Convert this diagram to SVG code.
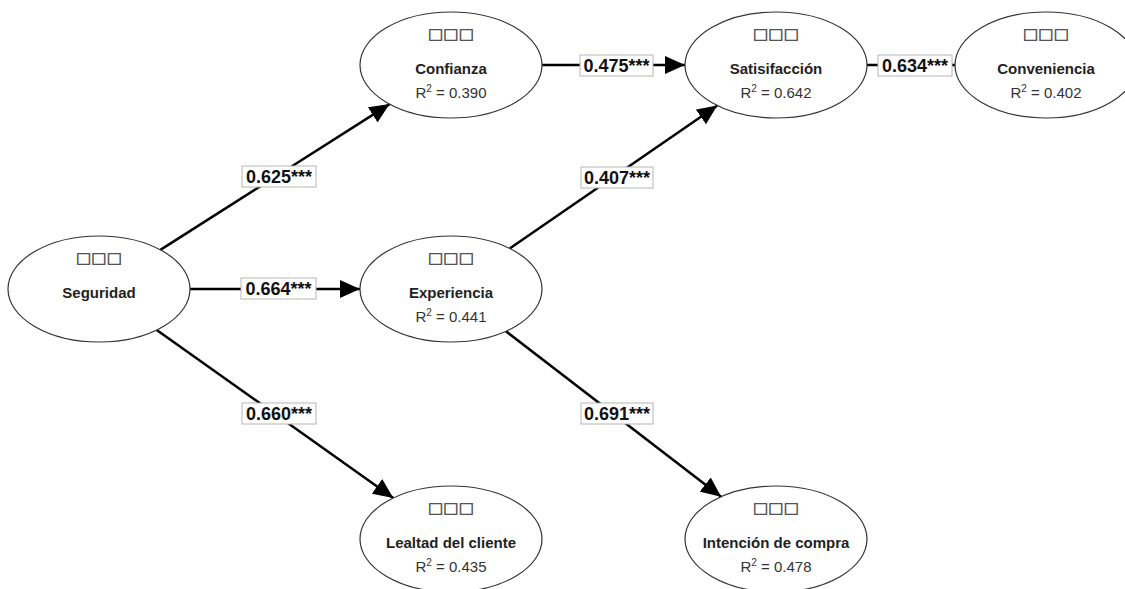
<svg xmlns="http://www.w3.org/2000/svg" width="1125" height="589" viewBox="0 0 1125 589">
<style>
.node ellipse{fill:#fff;stroke:#333;stroke-width:1.2}
.tofu{font-family:"DejaVu Sans",sans-serif;font-size:15px;fill:#444;stroke:#444;stroke-width:0.35;text-anchor:middle}
.name{font-family:"Liberation Sans",Arial,sans-serif;font-size:15px;font-weight:bold;fill:#222;text-anchor:middle}
.r2{font-family:"Liberation Sans",Arial,sans-serif;font-size:15px;fill:#333;text-anchor:middle}
.sup{font-size:10px}
.edge{stroke:#000;stroke-width:2.5;fill:none;marker-end:url(#arr)}
.lbl rect{fill:#fff;stroke:#b5b5b5;stroke-width:1}
.lbl text{font-family:"Liberation Sans",Arial,sans-serif;font-size:18px;font-weight:bold;fill:#111;text-anchor:middle}
</style>
<defs>
<marker id="arr" markerUnits="userSpaceOnUse" markerWidth="20" markerHeight="18" refX="20" refY="9" orient="auto">
<path d="M0,0 L20,9 L0,18 z" fill="#000"/>
</marker>
</defs>
<rect width="1125" height="589" fill="#fff"/>
<g id="connectors">
<path class="edge" d="M160.4,249.9 L389.6,104.1"/>
<path class="edge" d="M190,289 L360,289"/>
<path class="edge" d="M156.7,330 L393.3,498"/>
<path class="edge" d="M542,65 L685,65"/>
<path class="edge" d="M509.7,248.5 L717.3,105.5"/>
<path class="edge" d="M505.9,331.3 L721.1,496.7"/>
<path class="edge" d="M867,65 L955,65"/>
<g class="lbl" id="l1"><rect x="242" y="166" width="74" height="21"/><text x="279" y="183">0.625***</text></g>
<g class="lbl" id="l2"><rect x="241" y="278" width="75" height="21"/><text x="278.5" y="295">0.664***</text></g>
<g class="lbl" id="l3"><rect x="242" y="403" width="74" height="21"/><text x="279" y="420">0.660***</text></g>
<g class="lbl" id="l4"><rect x="580" y="55" width="73" height="21"/><text x="616.5" y="72">0.475***</text></g>
<g class="lbl" id="l5"><rect x="581" y="167" width="72" height="21"/><text x="617" y="184">0.407***</text></g>
<g class="lbl" id="l6"><rect x="581" y="403" width="72" height="21"/><text x="617" y="420">0.691***</text></g>
<g class="lbl" id="l7"><rect x="878" y="55" width="74" height="21"/><text x="915" y="72">0.634***</text></g>
</g>
<g class="node" id="seguridad">
<ellipse cx="99" cy="289" rx="91" ry="53"/>
<text class="tofu" x="99" y="263" textLength="46" lengthAdjust="spacingAndGlyphs">□□□</text>
<text class="name" x="99" y="298">Seguridad</text>
</g>
<g class="node" id="confianza">
<ellipse cx="451" cy="65" rx="91" ry="53"/>
<text class="tofu" x="451" y="39" textLength="46" lengthAdjust="spacingAndGlyphs">□□□</text>
<text class="name" x="451" y="74">Confianza</text>
<text class="r2" x="451" y="98">R<tspan class="sup" dy="-6">2</tspan><tspan dy="6"> = 0.390</tspan></text>
</g>
<g class="node" id="experiencia">
<ellipse cx="451" cy="289" rx="91" ry="53"/>
<text class="tofu" x="451" y="263" textLength="46" lengthAdjust="spacingAndGlyphs">□□□</text>
<text class="name" x="451" y="298">Experiencia</text>
<text class="r2" x="451" y="322">R<tspan class="sup" dy="-6">2</tspan><tspan dy="6"> = 0.441</tspan></text>
</g>
<g class="node" id="lealtad">
<ellipse cx="451" cy="539" rx="91" ry="53"/>
<text class="tofu" x="451" y="513" textLength="46" lengthAdjust="spacingAndGlyphs">□□□</text>
<text class="name" x="451" y="548">Lealtad del cliente</text>
<text class="r2" x="451" y="572">R<tspan class="sup" dy="-6">2</tspan><tspan dy="6"> = 0.435</tspan></text>
</g>
<g class="node" id="satisfaccion">
<ellipse cx="776" cy="65" rx="91" ry="53"/>
<text class="tofu" x="776" y="39" textLength="46" lengthAdjust="spacingAndGlyphs">□□□</text>
<text class="name" x="776" y="74">Satisifacción</text>
<text class="r2" x="776" y="98">R<tspan class="sup" dy="-6">2</tspan><tspan dy="6"> = 0.642</tspan></text>
</g>
<g class="node" id="intencion">
<ellipse cx="776" cy="539" rx="91" ry="53"/>
<text class="tofu" x="776" y="513" textLength="46" lengthAdjust="spacingAndGlyphs">□□□</text>
<text class="name" x="776" y="548">Intención de compra</text>
<text class="r2" x="776" y="572">R<tspan class="sup" dy="-6">2</tspan><tspan dy="6"> = 0.478</tspan></text>
</g>
<g class="node" id="conveniencia">
<ellipse cx="1046" cy="65" rx="91" ry="53"/>
<text class="tofu" x="1046" y="39" textLength="46" lengthAdjust="spacingAndGlyphs">□□□</text>
<text class="name" x="1046" y="74">Conveniencia</text>
<text class="r2" x="1046" y="98">R<tspan class="sup" dy="-6">2</tspan><tspan dy="6"> = 0.402</tspan></text>
</g>
</svg>
